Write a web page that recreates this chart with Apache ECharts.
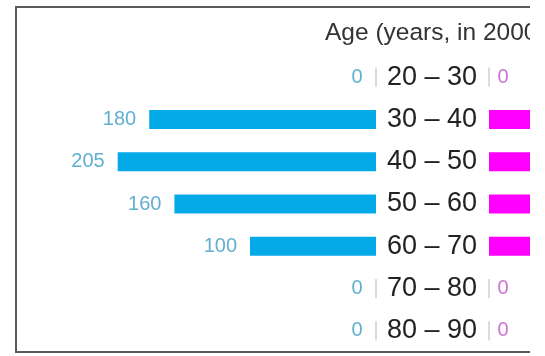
<!DOCTYPE html>
<html>
<head>
<meta charset="utf-8">
<script src="https://cdn.jsdelivr.net/npm/echarts@6/dist/echarts.min.js"></script>
<style>
html,body{margin:0;padding:0;background:#fff;}
#chart{width:530px;height:356px;overflow:hidden;}
</style>
</head>
<body>
<div id="chart"></div>
<script>
var categories = ['20 – 30', '30 – 40', '40 – 50', '50 – 60', '60 – 70', '70 – 80', '80 – 90'];
var leftValues = [0, 180, 205, 160, 100, 0, 0];
var rightValues = [0, 150, 190, 150, 95, 0, 0];
var titleText = 'Age (years, in 2000)';

function withZeroMark(arr, color) {
  return arr.map(function (v) {
    return v === 0 ? { value: v, itemStyle: { borderColor: color, borderWidth: 1 } } : v;
  });
}

var chart = echarts.init(document.getElementById('chart'), null, { renderer: 'canvas' });
chart.setOption({
  animation: false,
  backgroundColor: '#fff',
  title: {
    text: titleText,
    left: 320,
    top: 16,
    textStyle: { fontFamily: 'Liberation Sans', fontSize: 24.5, fontWeight: 'normal', color: '#333' }
  },
  graphic: [{
    type: 'polyline',
    shape: { points: [[530, 7], [16, 7], [16, 352], [530, 352]] },
    style: { stroke: '#5a5a5a', lineWidth: 2, fill: null }
  }],
  grid: [
    { left: 61, width: 315, top: 56, height: 296, outerBoundsMode: 'none', containLabel: false },
    { left: 489, width: 315, top: 56, height: 296, outerBoundsMode: 'none', containLabel: false }
  ],
  xAxis: [
    { gridIndex: 0, type: 'value', min: 0, max: 250, inverse: true, show: false },
    { gridIndex: 1, type: 'value', min: 0, max: 250, show: false }
  ],
  yAxis: [
    { gridIndex: 0, type: 'category', data: categories, inverse: true, show: false },
    {
      gridIndex: 1, type: 'category', data: categories, inverse: true,
      axisLine: { show: false }, axisTick: { show: false },
      axisLabel: { margin: 12, fontFamily: 'Liberation Sans', fontSize: 27, color: '#222' }
    }
  ],
  series: [
    {
      type: 'bar', xAxisIndex: 0, yAxisIndex: 0, barWidth: 19,
      data: withZeroMark(leftValues, '#c9cfd2'),
      itemStyle: { color: '#04a9e8' },
      label: { show: true, position: 'left', distance: 13, fontFamily: 'Liberation Sans', fontSize: 20, color: '#62afcf' }
    },
    {
      type: 'bar', xAxisIndex: 1, yAxisIndex: 1, barWidth: 19,
      data: withZeroMark(rightValues, '#dcc6df'),
      itemStyle: { color: '#ff00ff' },
      label: { show: true, position: 'right', distance: 8, fontFamily: 'Liberation Sans', fontSize: 20, color: '#cc72d8' }
    }
  ]
});
</script>
</body>
</html>
